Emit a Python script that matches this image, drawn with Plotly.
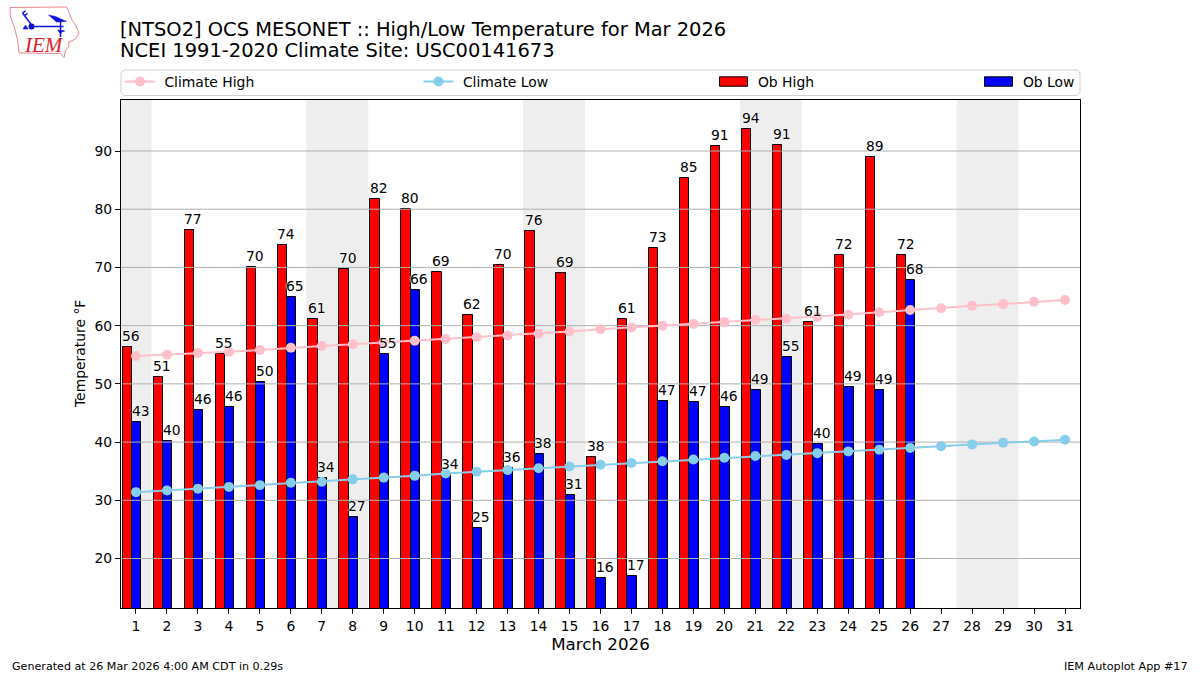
import plotly.graph_objects as go

days = list(range(1, 32))
obs_days = list(range(1, 27))
ob_high = [56.4, 51.1, 76.5, 55.2, 70.0, 73.8, 61.2, 69.7, 81.7, 80.1, 69.3, 61.8, 70.4,
           76.2, 69.1, 37.5, 61.2, 73.3, 85.3, 90.8, 93.8, 91.0, 60.7, 72.1, 88.9, 72.1]
ob_low = [43.4, 40.2, 45.5, 46.0, 50.4, 64.9, 33.8, 27.1, 55.2, 66.2, 34.3, 25.2, 35.6,
          37.9, 30.9, 16.6, 17.0, 47.1, 46.8, 46.0, 48.9, 54.7, 39.6, 49.4, 48.9, 67.9]
high_labels = ["56", "51", "77", "55", "70", "74", "61", "70", "82", "80", "69", "62", "70",
               "76", "69", "38", "61", "73", "85", "91", "94", "91", "61", "72", "89", "72"]
low_labels = ["43", "40", "46", "46", "50", "65", "34", "27", "55", "66", "34", "25", "36",
              "38", "31", "16", "17", "47", "47", "46", "49", "55", "40", "49", "49", "68"]
climate_high = [54.8, 55.0, 55.3, 55.5, 55.8, 56.2, 56.5, 56.8, 57.1, 57.4, 57.7, 58.0, 58.3,
                58.6, 59.0, 59.4, 59.7, 60.0, 60.3, 60.6, 61.0, 61.2, 61.5, 61.9, 62.3, 62.7,
                63.0, 63.4, 63.7, 64.1, 64.4]
climate_low = [31.4, 31.7, 32.0, 32.3, 32.6, 33.0, 33.2, 33.6, 33.9, 34.2, 34.6, 34.9, 35.2,
               35.5, 35.8, 36.1, 36.4, 36.7, 37.0, 37.3, 37.6, 37.8, 38.1, 38.4, 38.7, 39.0,
               39.3, 39.6, 39.9, 40.1, 40.4]
y_ticks = [20, 30, 40, 50, 60, 70, 80, 90]
weekends = [(0.5, 1.5), (6.5, 8.5), (13.5, 15.5), (20.5, 22.5), (27.5, 29.5)]

W, H = 1200, 675
L, R, T, B = 120.5, 1080.0, 100.0, 608.0
FONT = "DejaVu Sans"


def X(px):
    return (px - L) / (R - L)


def Y(py):
    return (B - py) / (B - T)


fig = go.Figure()
fig.add_trace(go.Bar(x=[d - 0.28 for d in obs_days], y=ob_high, width=0.3, name=" Ob High",
                     marker=dict(color="#ff0000", line=dict(color="black", width=1)), legend="legend3"))
fig.add_trace(go.Bar(x=[d + 0.02 for d in obs_days], y=ob_low, width=0.3, name=" Ob Low",
                     marker=dict(color="#0000ff", line=dict(color="black", width=1)), legend="legend4"))
# grid sits over the bars and under the climate lines in the reference
gx, gy = [], []
for t in y_ticks:
    gx += [0.5, 31.5, None]
    gy += [t, t, None]
fig.add_trace(go.Scatter(x=gx, y=gy, mode="lines", line=dict(color="#b0b0b0", width=1),
                         showlegend=False, hoverinfo="skip"))
fig.add_trace(go.Scatter(x=days, y=climate_high, mode="lines+markers", name=" Climate High",
                         line=dict(color="#ffc0cb", width=2), marker=dict(color="#ffc0cb", size=10),
                         legend="legend"))
fig.add_trace(go.Scatter(x=days, y=climate_low, mode="lines+markers", name=" Climate Low",
                         line=dict(color="#87ceeb", width=2), marker=dict(color="#87ceeb", size=10),
                         legend="legend2"))

shapes = []
for a, b in weekends:
    shapes.append(dict(type="rect", xref="x", yref="paper", x0=a, x1=b, y0=0, y1=1,
                       fillcolor="#eeeeee", line_width=0, layer="below"))


def path(points, close=False):
    s = "M" + " L".join(f"{X(px):.5f},{Y(py):.5f}" for px, py in points)
    return s + (" Z" if close else "")


# legend frame
r = 3
fx0, fx1, fy0, fy1 = 120.5, 1080, 70, 95.5
shapes.append(dict(type="path", xref="paper", yref="paper", layer="below",
                   path=path([(fx0 + r, fy0), (fx1 - r, fy0), (fx1, fy0 + r), (fx1, fy1 - r), (fx1 - r, fy1),
                              (fx0 + r, fy1), (fx0, fy1 - r), (fx0, fy0 + r)], True),
                   line=dict(color="#d0d0d0", width=1)))
# IEM logo
iowa = [(9.5, 7.5), (66, 7), (68, 11.5), (71.5, 20), (75, 25), (78.5, 33), (75, 39), (68.5, 42),
        (68, 47), (65, 50), (63.5, 57.5), (60, 53.5), (18.5, 53), (17, 40), (14, 28), (10, 17)]
shapes.append(dict(type="path", xref="paper", yref="paper", path=path(iowa, True),
                   line=dict(color="#e9868c", width=1)))
blue = dict(color="#1010e0", width=1.5)
for seg in [[(31, 26.5), (63, 26.5)], [(31, 25), (22, 13)], [(22, 13), (25, 11)], [(24, 15.5), (27, 13.5)],
            [(60, 21), (60, 37)], [(60, 31), (64, 31)]]:
    shapes.append(dict(type="path", xref="paper", yref="paper", path=path(seg), line=blue))
for poly in [[(48, 15), (55, 16.5), (66, 21.5), (56, 22)], [(57, 30), (62, 31), (60, 34)],
             [(22.5, 29), (25, 25), (27.5, 29)]]:
    shapes.append(dict(type="path", xref="paper", yref="paper", path=path(poly, True),
                       fillcolor="#1010e0", line=dict(color="#1010e0", width=0.5)))
shapes.append(dict(type="circle", xref="paper", yref="paper", x0=X(28), x1=X(34), y0=Y(29.5), y1=Y(23.5),
                   fillcolor="#0a0ad0", line_width=0))

ann = []
for d, v, s in zip(obs_days, ob_high, high_labels):
    ann.append(dict(x=d - 0.15, y=v, text=s))
for d, v, s in zip(obs_days, ob_low, low_labels):
    ann.append(dict(x=d + 0.15, y=v, text=s))
for a in ann:
    a.update(xref="x", yref="y", showarrow=False, xanchor="center", yanchor="bottom", yshift=2,
             borderpad=0, font=dict(family=FONT, size=13.9, color="black",
                                    shadow="white 0 0 2px, white 0 0 2px, white 0 0 1px"))
ann.append(dict(x=X(21), y=Y(45), xref="paper", yref="paper", xanchor="left", yanchor="middle", showarrow=False,
                text="<i>IEM</i>", font=dict(family="Liberation Serif", size=21, color="#dd1c2c")))
ann.append(dict(x=X(118), y=Y(50.5), xref="paper", yref="paper", xanchor="left", yanchor="middle", showarrow=False,
                borderpad=0, text="NCEI 1991-2020 Climate Site: USC00141673",
                font=dict(family=FONT, size=19.45, color="black")))
ann.append(dict(x=X(79), y=Y(354.5), xref="paper", yref="paper", xanchor="center", yanchor="middle", showarrow=False,
                textangle=-90, text="Temperature °F", font=dict(family=FONT, size=13.9, color="black")))
ann.append(dict(x=X(9), y=Y(666), xref="paper", yref="paper", xanchor="left", yanchor="middle", showarrow=False,
                text="Generated at 26 Mar 2026 4:00 AM CDT in 0.29s", font=dict(family=FONT, size=11.11, color="black")))
ann.append(dict(x=X(1190), y=Y(666), xref="paper", yref="paper", xanchor="right", yanchor="middle", showarrow=False,
                text="IEM Autoplot App #17", font=dict(family=FONT, size=11.2, color="black")))


def legend_at(px):
    return dict(x=px / W, y=1 - 66 / H, xref="container", yref="container", xanchor="left", yanchor="top",
                bgcolor="rgba(0,0,0,0)", borderwidth=0, itemwidth=30,
                font=dict(family=FONT, size=13.9, color="black"))


fig.update_layout(
    width=W, height=H, margin=dict(l=L, r=W - R, t=T, b=H - B, pad=0, autoexpand=False),
    paper_bgcolor="white", plot_bgcolor="white", barmode="overlay", bargap=0,
    font=dict(family=FONT, size=13.9, color="black"),
    title=dict(text="[NTSO2] OCS MESONET :: High/Low Temperature for Mar 2026",
               x=120 / W, xref="container", xanchor="left", y=1 - 29 / H, yref="container", yanchor="middle",
               font=dict(family=FONT, size=19.45, color="black")),
    xaxis=dict(range=[0.516, 31.484], tickmode="array", tickvals=days, ticktext=[str(d) for d in days],
               ticks="outside", ticklen=5, tickwidth=1, tickcolor="black", showline=True, linecolor="black",
               linewidth=1, mirror=True, showgrid=False, zeroline=False,
               title=dict(text="March 2026", font=dict(family=FONT, size=16.7), standoff=5)),
    yaxis=dict(range=[11.5, 98.76], tickmode="array", tickvals=y_ticks, ticks="outside", ticklen=5,
               tickwidth=1, tickcolor="black", showline=True, linecolor="black", linewidth=1, mirror=True,
               showgrid=False, zeroline=False),
    legend=legend_at(120), legend2=legend_at(418.5), legend3=legend_at(713.5), legend4=legend_at(978.5),
    shapes=shapes, annotations=ann, hovermode=False,
)

post = """
document.body.style.margin='0';
var gd = document.getElementById('{plot_id}');
function widenBarKeys() {
  gd.querySelectorAll('.legendpoints path').forEach(function (p) {
    var d = p.getAttribute('d') || '';
    if (/^M6,6/.test(d) || p.getAttribute('class') === 'legendbar' || p.getAttribute('class') === 'legendundefined') {
      p.setAttribute('d', 'M14,4.7H-14V-4.7H14Z');
    }
  });
}
if (gd.on) { gd.on('plotly_afterplot', widenBarKeys); }
widenBarKeys();
[50, 200, 500, 1000].forEach(function (t) { setTimeout(widenBarKeys, t); });
"""
fig.write_html("out.html", post_script=post, config=dict(displayModeBar=False))
